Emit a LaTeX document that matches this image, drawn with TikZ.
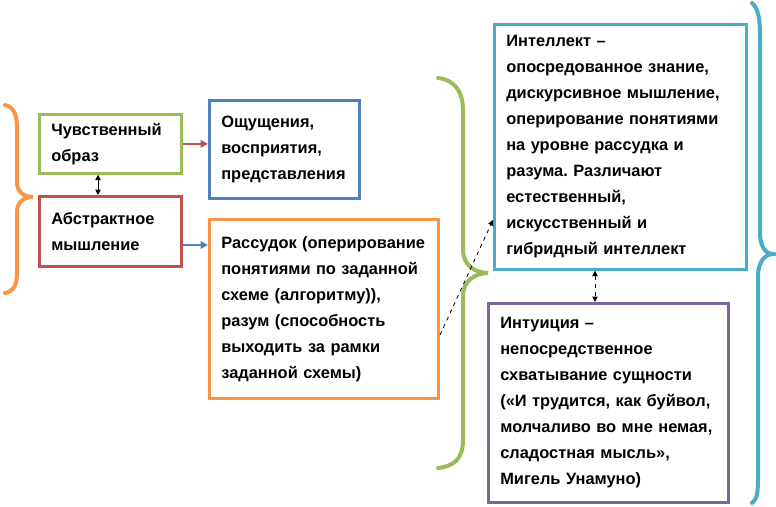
\documentclass[tikz,border=0pt]{standalone}
\usepackage{fontspec}
\setmainfont{Liberation Sans}
\usetikzlibrary{arrows.meta}
\frenchspacing

\definecolor{officegreen}{RGB}{155,187,89}
\definecolor{officered}{RGB}{192,80,77}
\definecolor{officeblue}{RGB}{79,129,189}
\definecolor{officeorange}{RGB}{247,150,70}
\definecolor{officecyan}{RGB}{75,172,198}
\definecolor{officepurple}{RGB}{128,100,162}

\tikzset{
  box/.style={draw,line width=2pt,fill=white,anchor=north west,align=left,
    inner xsep=9pt,inner ysep=4pt,font=\fontsize{12.3pt}{19.5pt}\selectfont\bfseries},
  brace line/.style={line width=3pt,line cap=round},
  link/.style={line width=1.6pt,-{Triangle[length=5.5pt,width=5.5pt]}},
  thin link/.style={line width=.6pt,-{Triangle[length=4pt,width=4pt]}},
  both link/.style={line width=.6pt,{Triangle[length=4pt,width=4pt]}-{Triangle[length=4pt,width=4pt]}},
}

\begin{document}
\begin{tikzpicture}[x=0.75pt,y=-0.75pt]
  \useasboundingbox (0,0) rectangle (776,507);

  % left column
  \node[box,draw=officegreen,text width=88.5pt,minimum height=44.25pt] (sens) at (38,113)
    {Чувственный\\образ};
  \node[box,draw=officered,text width=88.5pt,minimum height=52.5pt] (abstract) at (38,195)
    {Абстрактное\\мышление};

  % middle column
  \node[box,draw=officeblue,text width=94.5pt,minimum height=73.5pt] (percept) at (208,99)
    {Ощущения,\\восприятия,\\представления};
  \node[box,draw=officeorange,text width=154pt,minimum height=134.25pt] (reason) at (208,218)
    {Рассудок (оперирование\\понятиями по заданной\\схеме (алгоритму)),\\разум (способность\\выходить за рамки\\заданной схемы)};

  % right column
  \node[box,draw=officecyan,text width=171pt,minimum height=183.75pt] (intellect) at (493,23)
    {Интеллект –\\опосредованное знание,\\дискурсивное мышление,\\оперирование понятиями\\на уровне рассудка и\\разума. Различают\\естественный,\\искусственный и\\гибридный интеллект};
  \node[box,draw=officepurple,text width=162pt,minimum height=149.25pt] (intuition) at (487,302)
    {Интуиция –\\непосредственное\\схватывание сущности\\(«И трудится, как буйвол,\\молчаливо во мне немая,\\сладостная мысль»,\\Мигель Унамуно)};

  % braces
  \draw[brace line,officeorange] (5,105) .. controls (14,107) and (17,115) .. (17,128) -- (17,182)
    .. controls (17,192) and (24,197) .. (33,197) .. controls (24,197) and (17,202) .. (17,212)
    -- (17,272) .. controls (17,285) and (14,291) .. (5,293);
  \draw[brace line,officegreen] (438,78) .. controls (455,80) and (463,92) .. (463,110) -- (463,250)
    .. controls (463,265) and (475,273) .. (488,273) .. controls (475,273) and (463,281) .. (463,296)
    -- (463,440) .. controls (463,458) and (455,466) .. (438,468);
  \draw[brace line,officecyan] (752,3) .. controls (758,8) and (760,18) .. (760,35) -- (760,232)
    .. controls (760,246) and (765,254) .. (773,254) .. controls (765,254) and (758,262) .. (758,276)
    -- (758,480) .. controls (758,495) and (756,500) .. (752,503);

  % connectors
  \draw[link,officered] (sens.east) -- (sens.east -| percept.west);
  \draw[link,officeblue] (abstract.east |- 0,245) -- (reason.west |- 0,245);
  \draw[both link] (sens.south -| 98,0) -- (abstract.north -| 98,0);
  \draw[thin link,dashed] (reason.east |- 0,335) -- (intellect.west |- 0,220);
  \draw[both link,dashed] (intellect.south -| 595,0) -- (intuition.north -| 595,0);
\end{tikzpicture}
\end{document}
